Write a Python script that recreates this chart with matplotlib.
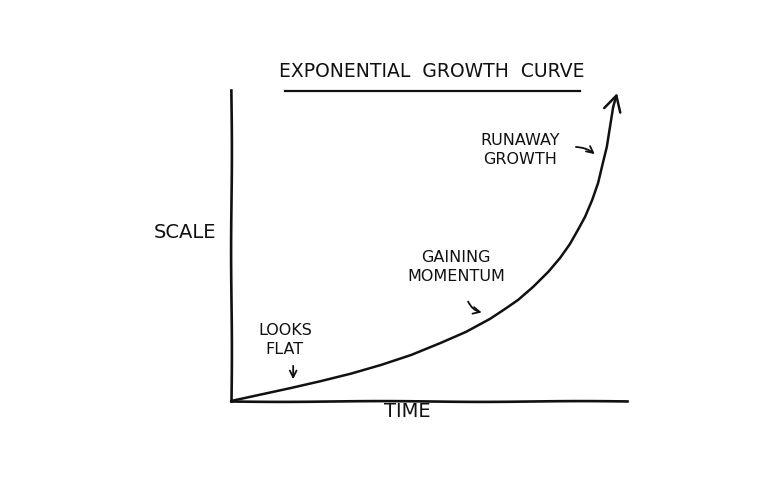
import matplotlib as mpl
mpl.use('Agg')
import matplotlib.pyplot as plt

# curve (time 0..10, scale 0..100), last point = arrow tip
t = [0.0, 0.76, 1.52, 2.27, 3.03, 3.79, 4.55, 5.30, 5.93, 6.54, 6.92, 7.25, 7.63, 8.01,
     8.31, 8.56, 8.76, 8.94, 9.12, 9.27, 9.39, 9.49, 9.57, 9.65, 9.75]
scale = [0.0, 2.1, 4.2, 6.4, 8.8, 11.6, 14.8, 18.7, 22.2, 26.4, 29.6, 32.5, 36.7, 41.5,
         46.0, 50.5, 55.0, 59.2, 64.6, 70.1, 76.5, 81.7, 88.1, 94.5, 99.0]

title = 'EXPONENTIAL  GROWTH  CURVE'
xlabel = 'TIME'
ylabel = 'SCALE'
notes = ['LOOKS\nFLAT', 'GAINING\nMOMENTUM', 'RUNAWAY\nGROWTH']

plt.rcParams['font.family'] = ['DejaVu Sans']

fig = plt.figure(figsize=(7.77, 4.91), dpi=100)
ax = fig.add_axes([231/777, 90/491, 396/777, 311/491])
ax.set_xlim(0, 10)
ax.set_ylim(0, 100)
for s in ['top', 'right']:
    ax.spines[s].set_visible(False)
for s in ['left', 'bottom']:
    ax.spines[s].set_linewidth(1.9)
    ax.spines[s].set_color('#111111')
    ax.spines[s].set_sketch_params(0.4, 200, 1)
ax.set_xticks([])
ax.set_yticks([])

ax.plot(t[:-1], scale[:-1], color='#111111', lw=1.8, solid_capstyle='round',
        solid_joinstyle='round', clip_on=False)
ax.annotate('', xy=(t[-1], scale[-1]), xytext=(t[-2], scale[-2]),
            arrowprops=dict(arrowstyle='->,head_width=0.3,head_length=0.55', color='#111111',
                            lw=1.8, mutation_scale=20, shrinkA=0, shrinkB=0),
            annotation_clip=False)

hand = dict(color='#111111', fontsize=11.5, ha='center', va='center', linespacing=1.35)
ax.text(5.08, 105.8, title, fontsize=13.5, color='#111111', ha='center', va='center', clip_on=False)
ax.plot([1.36, 8.81], [99.7, 99.7], color='#111111', lw=1.6, clip_on=False)
ax.text(-1.16, 54.3, ylabel, fontsize=14, color='#111111', ha='center', va='center', clip_on=False)
ax.text(4.44, -3.3, xlabel, fontsize=14, color='#111111', ha='center', va='center', clip_on=False)

ax.text(1.36, 19.6, notes[0], **hand)
ax.text(5.68, 43.1, notes[1], **hand)
ax.text(7.3, 80.7, notes[2], **hand)

arrow = dict(arrowstyle='->', color='#111111', lw=1.3, mutation_scale=12)
ax.annotate('', xy=(1.57, 6.1), xytext=(1.57, 12.2), arrowprops=arrow)
ax.annotate('', xy=(6.40, 28.3), xytext=(5.96, 32.8),
            arrowprops=dict(arrow, connectionstyle='arc3,rad=0.3'))
ax.annotate('', xy=(9.24, 78.8), xytext=(8.64, 81.7),
            arrowprops=dict(arrow, connectionstyle='arc3,rad=-0.2'))

fig.savefig('out.png', dpi=100)
